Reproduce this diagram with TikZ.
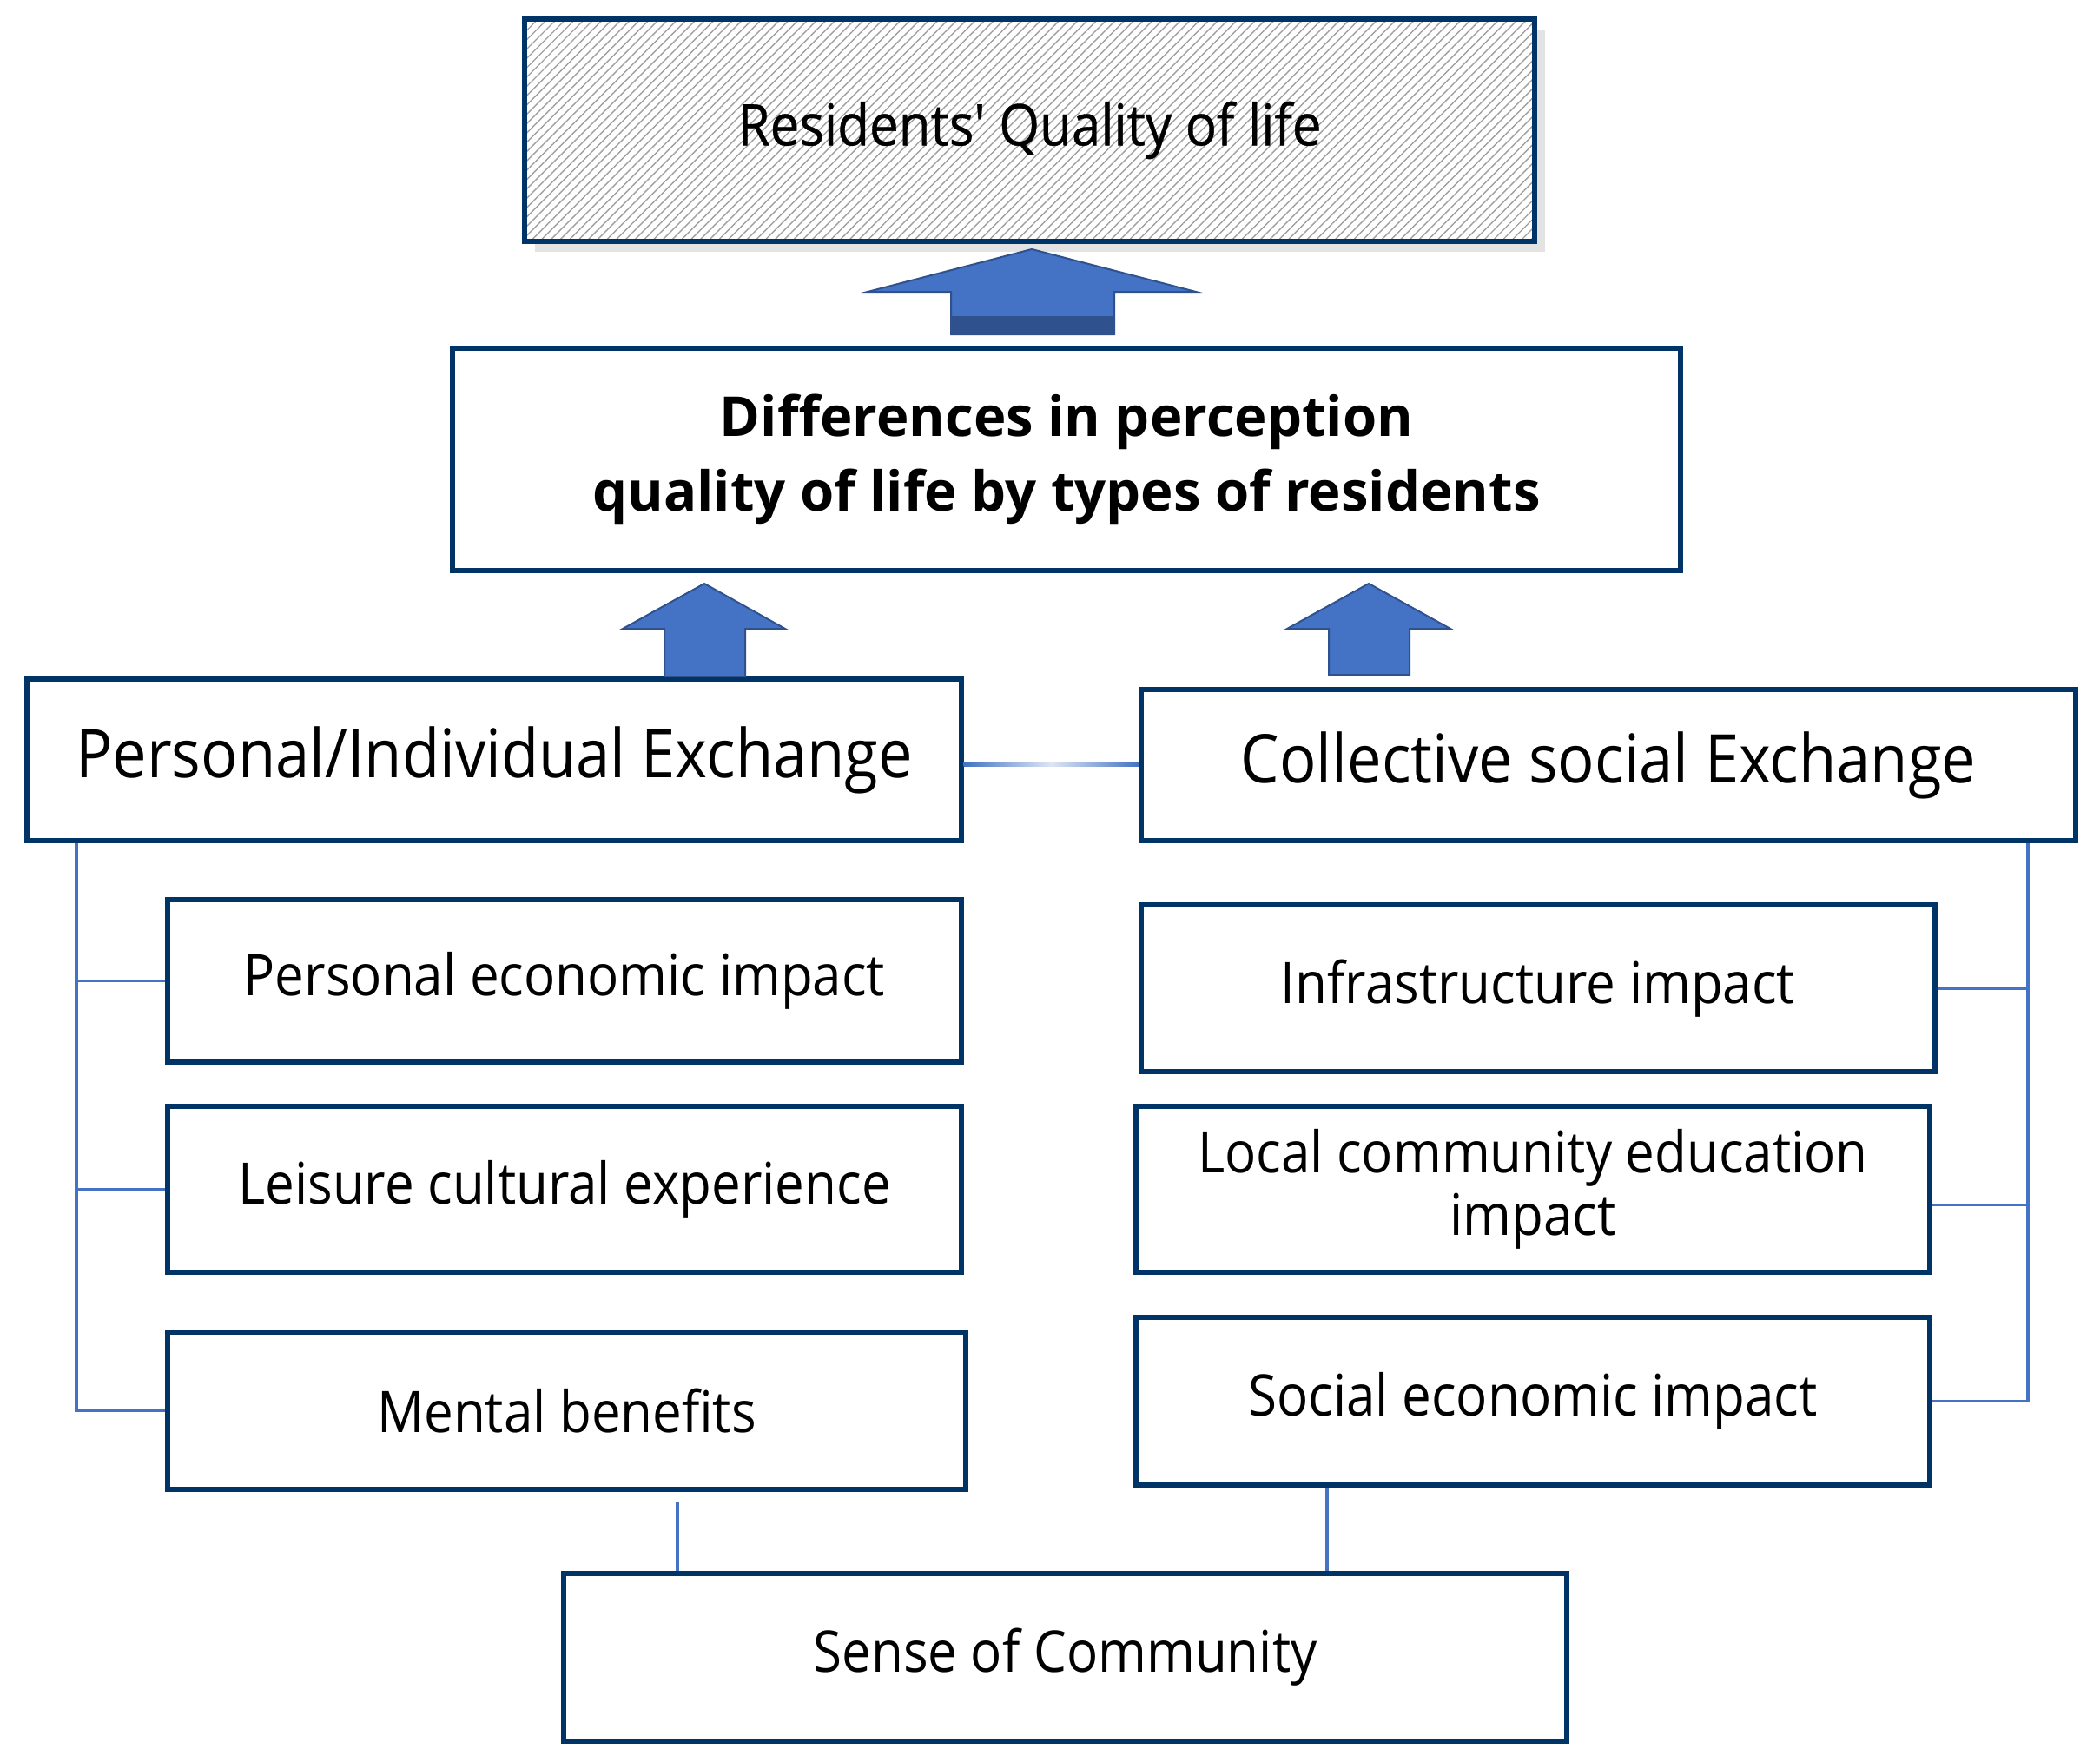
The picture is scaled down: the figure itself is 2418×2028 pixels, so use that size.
\documentclass[tikz,border=0pt]{standalone}
\usepackage{fontspec}
\setmainfont{Open Sans}[FakeStretch=0.91]
\newfontfamily\widefam{Open Sans}[FakeStretch=1.0]
\newfontfamily\darkfam{Open Sans}[FakeStretch=0.91,FakeBold=0.6]
\usetikzlibrary{patterns.meta,calc}
\definecolor{navy}{RGB}{0,51,102}
\definecolor{lblue}{RGB}{68,114,196}
\definecolor{dblue}{RGB}{47,82,143}
\begin{document}
\begin{tikzpicture}[x=0.5pt,y=-0.5pt,
  box/.style={draw=navy,line width=2.6pt,fill=white,inner sep=0pt,align=center,rectangle},
  conn/.style={draw=lblue,line width=1.6pt},
  blockarrow/.style={fill=lblue,draw=dblue,line width=1pt},
  bigtxt/.style={font=\fontsize{38.7}{44}\selectfont},
  subtxt/.style={font=\fontsize{33}{36}\selectfont},
  midtxt/.style={font=\widefam\fontsize{31.7}{43}\selectfont\bfseries},
  toptxt/.style={font=\darkfam\fontsize{33}{38}\selectfont}]
\useasboundingbox (0,0) rectangle (2418,2028);
\fill[white] (0,0) rectangle (2418,2028);
% shadow of top box
\fill[gray!22] (616,34) rectangle (1779,290);
\node[box,toptxt,minimum width=581.5pt,minimum height=128pt,
      preaction={fill=white},pattern={Lines[angle=45,distance=3.8pt,line width=0.7pt]},pattern color=gray!75]
      (top) at (1185.5,150) {Residents' Quality of life};
\node[box,midtxt,minimum width=707pt,minimum height=128pt] (mid) at (1228,529)
      {Differences in perception\\quality of life by types of residents};
\node[box,bigtxt,minimum width=538pt,minimum height=93pt] (pe) at (569,875) {Personal/Individual Exchange};
\node[box,bigtxt,minimum width=538pt,minimum height=87pt] (ce) at (1852,881) {Collective social Exchange};
\node[box,subtxt,minimum width=457pt,minimum height=93.5pt] (p1) at (650,1129.5) {Personal economic impact};
\node[box,subtxt,minimum width=457pt,minimum height=95.5pt] (p2) at (650,1369.5) {Leisure cultural experience};
\node[box,subtxt,minimum width=459.5pt,minimum height=90.5pt] (p3) at (652.5,1624.5) {Mental benefits};
\node[box,subtxt,minimum width=457pt,minimum height=96pt] (c1) at (1771,1138) {Infrastructure impact};
\node[box,subtxt,minimum width=457pt,minimum height=95.5pt] (c2) at (1765,1369.5) {Local community education\\impact};
\node[box,subtxt,minimum width=457pt,minimum height=96.5pt] (c3) at (1765,1613.5) {Social economic impact};
\node[box,subtxt,minimum width=577.5pt,minimum height=96.5pt] (sc) at (1226.5,1908.5) {Sense of Community};
% block arrows
\draw[blockarrow] (1188,287) -- (1377,336) -- (1283,336) -- (1283,385) -- (1095,385) -- (1095,336) -- (999,336) -- cycle;
\fill[dblue] (1095,364) rectangle (1283,385);
\draw[blockarrow] (811,672) -- (904,724) -- (858,724) -- (858,779) -- (765,779) -- (765,724) -- (717,724) -- cycle;
\draw[blockarrow] (1576,672) -- (1670,724) -- (1623,724) -- (1623,777) -- (1530,777) -- (1530,724) -- (1482,724) -- cycle;
% horizontal link between the two exchanges
\coordinate (hy) at (0,880);
\shade[left color=lblue,right color=lblue,middle color=lblue!18]
  ($(pe.east |- hy)+(0,-2.5)$) rectangle ($(ce.west |- hy)+(0,2.5)$);
% left bracket
\coordinate (lx) at (88,0);
\draw[conn] (pe.south -| lx) -- (lx |- p3.west) -- (p3.west);
\draw[conn] (lx |- p1.west) -- (p1.west);
\draw[conn] (lx |- p2.west) -- (p2.west);
% right bracket
\coordinate (rx) at (2335,0);
\draw[conn] (ce.south -| rx) -- (rx |- c3.east) -- (c3.east);
\draw[conn] (rx |- c1.east) -- (c1.east);
\draw[conn] ($(c2.east)+(0,18)$) -- ($(rx |- c2.east)+(0,18)$);
% links to sense of community
\coordinate (b1) at (780,0);
\coordinate (b2) at (1528,0);
\draw[conn] ($(p3.south -| b1)+(0,12)$) -- (sc.north -| b1);
\draw[conn] (c3.south -| b2) -- (sc.north -| b2);
\end{tikzpicture}
\end{document}
